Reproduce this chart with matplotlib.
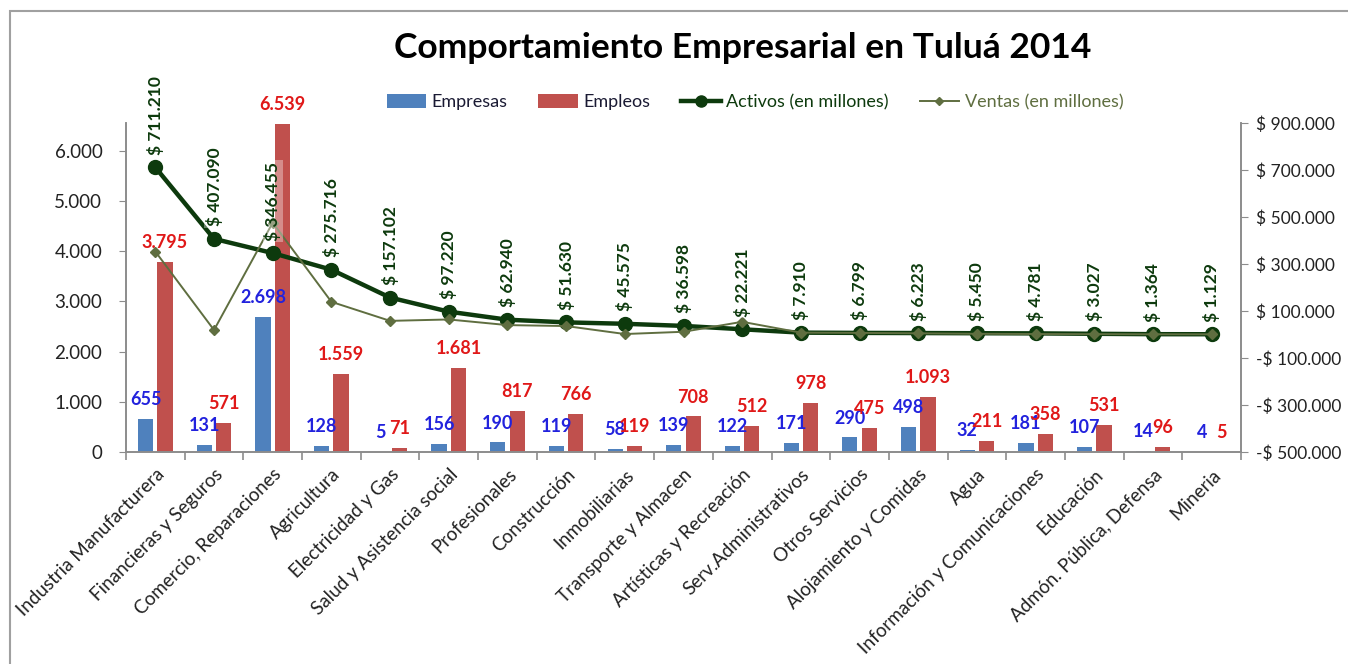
import matplotlib
matplotlib.use("Agg")
import matplotlib.pyplot as plt
import numpy as np
from matplotlib.patches import Rectangle, Patch
from matplotlib.lines import Line2D
from matplotlib.ticker import FixedLocator

plt.rcParams['font.family'] = ['Lato', 'DejaVu Sans']

categorias = ["Industria Manufacturera", "Financieras y Seguros", "Comercio, Reparaciones",
              "Agricultura", "Electricidad y Gas", "Salud y Asistencia social", "Profesionales",
              "Construcción", "Inmobiliarias", "Transporte y Almacen", "Artísticas y Recreación",
              "Serv.Administrativos", "Otros Servicios", "Alojamiento y Comidas", "Agua",
              "Información y Comunicaciones", "Educación", "Admón. Pública, Defensa", "Mineria"]
empresas = [655, 131, 2698, 128, 5, 156, 190, 119, 58, 139, 122, 171, 290, 498, 32, 181, 107, 14, 4]
empleos = [3795, 571, 6539, 1559, 71, 1681, 817, 766, 119, 708, 512, 978, 475, 1093, 211, 358, 531, 96, 5]
activos = [711210, 407090, 346455, 275716, 157102, 97220, 62940, 51630, 45575, 36598, 22221,
           7910, 6799, 6223, 5450, 4781, 3027, 1364, 1129]
ventas = [353000, 19000, 476000, 139000, 58000, 64000, 40000, 36000, 2000, 11600, 54000,
          7900, 6800, 5000, 3000, 2000, 1500, 1000, 800]
left_ticks = [0, 1000, 2000, 3000, 4000, 5000, 6000]
right_ticks = [-500000, -300000, -100000, 100000, 300000, 500000, 700000, 900000]

def miles(v):
    return f"{v:,}".replace(",", ".")

def pesos(v):
    return ("-$ " if v < 0 else "$ ") + miles(abs(v))

C_BLUE = '#4F81BD'
C_RED = '#C0504D'
C_ACT = '#0d3a0d'
C_VEN = '#5f6e40'
C_LBLUE = '#2222dd'
C_LRED = '#e01818'
C_TXT = '#222222'

W, H = 1348, 664
fig = plt.figure(figsize=(W / 100, H / 100), dpi=100)
ax = fig.add_axes([126 / W, 1 - 452 / H, (1241 - 126) / W, (452 - 123) / H])
ax2 = ax.twinx()

n = len(categorias)
x = np.arange(n)
bw = 0.26
ax.bar(x - 0.165, empresas, bw, color=C_BLUE, zorder=2)
ax.bar(x + 0.165, empleos, bw, color=C_RED, zorder=2)
ax.set_ylim(0, 6555)
ax.set_xlim(-0.5, n - 0.5)
ax.yaxis.set_major_locator(FixedLocator(left_ticks))
ax.set_yticklabels([miles(v) for v in left_ticks], fontsize=13.5, color=C_TXT)

for xi, v in zip(x, empresas):
    ax.annotate(miles(v), (xi - 0.165, v), xytext=(0, 14), textcoords='offset points',
                ha='center', va='center', fontsize=13, fontweight='bold', color=C_LBLUE, zorder=5)
for xi, v in zip(x, empleos):
    ax.annotate(miles(v), (xi + 0.165, v), xytext=(0, 14), textcoords='offset points',
                ha='center', va='center', fontsize=13, fontweight='bold', color=C_LRED, zorder=5)

ax2.plot(x, activos, color=C_ACT, lw=3.2, marker='o', ms=10, zorder=3)
ax2.plot(x, ventas, color=C_VEN, lw=1.4, marker='D', ms=5, zorder=4)
ax2.set_ylim(-500000, 900000)
ax2.yaxis.set_major_locator(FixedLocator(right_ticks))
ax2.set_yticklabels([pesos(v) for v in right_ticks], fontsize=12.5, color=C_TXT)
for xi, v in zip(x, activos):
    ax2.annotate(pesos(v), (xi, v), xytext=(0, 9), textcoords='offset points',
                 ha='center', va='bottom', rotation=90, fontsize=12.5, fontweight='bold',
                 color=C_ACT, zorder=6,
                 bbox=dict(facecolor='white', alpha=0.35, edgecolor='none', pad=1))

for a in (ax, ax2):
    a.spines['top'].set_visible(False)
    for s in ('left', 'right', 'bottom'):
        a.spines[s].set_color('#8c8c8c')
        a.spines[s].set_linewidth(1.2)
ax.tick_params(axis='y', length=5, color='#8c8c8c', pad=12)
ax2.tick_params(axis='y', length=5, color='#8c8c8c', pad=6)
ax.set_xticks(x)
ax.set_xticklabels(categorias, rotation=45, ha='right', rotation_mode='anchor',
                   fontsize=13.5, color=C_TXT)
ax.tick_params(axis='x', which='major', length=0, pad=10)
ax.set_xticks(np.arange(-0.5, n, 1.0), minor=True)
ax.tick_params(axis='x', which='minor', length=6, color='#8c8c8c', width=1.2)

fig.text(743 / W, 1 - 48 / H, "Comportamiento Empresarial en Tuluá 2014", ha='center', va='center',
         fontsize=25.5, fontweight='bold', color='black')

handles = [Patch(facecolor=C_BLUE), Patch(facecolor=C_RED),
           Line2D([], [], color=C_ACT, lw=3.2, marker='o', ms=8),
           Line2D([], [], color=C_VEN, lw=1.4, marker='D', ms=4)]
labels = ["Empresas", "Empleos", "Activos (en millones)", "Ventas (en millones)"]
leg = fig.legend(handles, labels, loc='center', bbox_to_anchor=(755 / W, 1 - 102 / H), ncol=4,
                 frameon=False, fontsize=13, handlelength=2.2, handleheight=0.8,
                 handletextpad=0.3, columnspacing=1.7)
for t, c in zip(leg.get_texts(), ['#1a1a33', '#1a1a33', C_ACT, C_VEN]):
    t.set_color(c)

fig.patches.append(Rectangle((10 / W, -0.1), 1.2, 1 - 11 / H + 0.1, transform=fig.transFigure,
                             fill=False, edgecolor='#a0a0a0', lw=1.5))

fig.savefig("out.png", dpi=100, facecolor='white')
